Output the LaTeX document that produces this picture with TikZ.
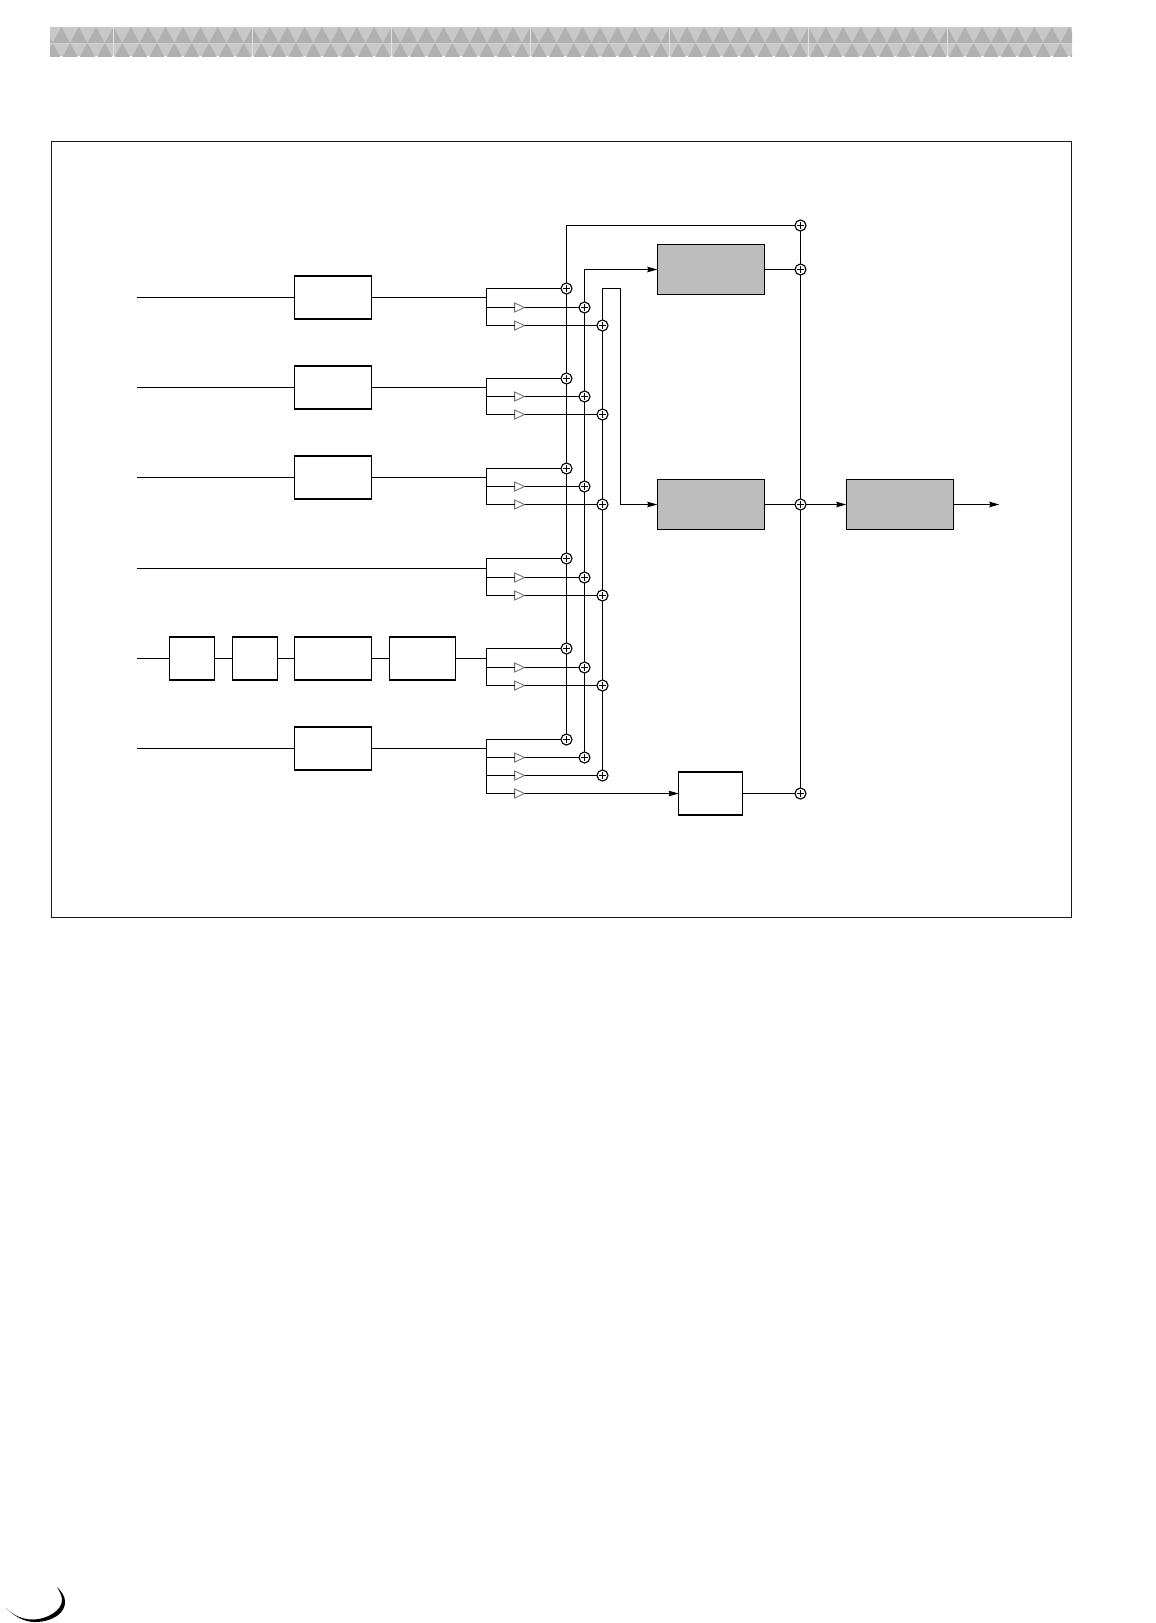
\documentclass[tikz,border=0pt]{standalone}
\usetikzlibrary{arrows.meta,shapes.geometric}
\definecolor{boxgray}{HTML}{BDBDBD}
\definecolor{bandlight}{HTML}{C8C8C8}
\definecolor{banddark}{HTML}{B0B0B0}
\tikzset{
    line/.style={line width=1.1pt},
    tipline/.style={line, -{Stealth[length=10pt,width=5.5pt,inset=1pt]}},
    plainbox/.style={draw, line width=1.3pt, fill=white, minimum height=43pt, inner sep=0pt, outer sep=0pt},
    graybox/.style={draw, line width=1.1pt, fill=boxgray, minimum height=50pt, inner sep=0pt, outer sep=0pt},
    sumnode/.style={circle, draw, line width=1.1pt, fill=white, minimum size=11pt, inner sep=0pt, outer sep=0pt,
        path picture={
            \draw[line width=0.9pt] (path picture bounding box.center) ++(-3.6pt,0) -- ++(7.2pt,0);
            \draw[line width=0.9pt] (path picture bounding box.center) ++(0,-3.6pt) -- ++(0,7.2pt);
        }},
    ampnode/.style={isosceles triangle, isosceles triangle stretches, draw=black!55, line width=0.9pt,
        fill=white, minimum width=9pt, minimum height=10pt, inner sep=0pt, outer sep=0pt},
}
\begin{document}
\begin{tikzpicture}[x=1pt, y=-1pt]
    \useasboundingbox (0,0) rectangle (1156,1623);

    % Colonne verticali
    \def\colA{566.5}
    \def\colB{584.5}
    \def\colC{602.5}
    \def\colOut{800.5}
    \def\ampx{517.5}

    % Fascia superiore
    \begin{scope}
        \clip (50,27) rectangle (1072,56);
        \fill[bandlight] (50,27) rectangle (1072,56);
        \foreach \k in {-4,...,56} {
            \fill[banddark] ({113.5+17.375*\k},27) -- ++(8.7,16) -- ++(-17.4,0) -- cycle;
            \fill[banddark] ({122.2+17.375*\k},43) -- ++(8.7,16) -- ++(-17.4,0) -- cycle;
        }
        \draw[line width=0.8pt, black!18] (50,43) -- (1072,43);
        \foreach \k in {0,...,6} {
            \draw[line width=1pt, black!12] ({113.5+139*\k},27) -- ++(0,29);
        }
    \end{scope}

    % Cornice
    \draw[line width=1.1pt, black!90] (51.5,141.5) rectangle (1071.5,917.5);

    % Ingressi e rami
    \foreach \r/\y/\ya/\yb/\yc in {1/297.5/288.5/307.5/325.5, 2/387.5/378.5/396.5/414.5,
        3/477.5/468.5/486.5/504.5, 4/568.5/558.5/577.5/595.5,
        5/658.5/648.5/667.5/685.5, 6/748.5/739.5/757.5/775.5} {
        \coordinate (in\r) at (137,\y);
        \coordinate (bus\r) at (486.5,\y);
        \node[sumnode] (sa\r) at (\colA,\ya) {};
        \node[sumnode] (sb\r) at (\colB,\yb) {};
        \node[sumnode] (sc\r) at (\colC,\yc) {};
        \node[ampnode] (ab\r) at (\ampx,\yb) {};
        \node[ampnode] (ac\r) at (\ampx,\yc) {};
        \draw[line] (bus\r) |- (sa\r);
        \draw[line] (bus\r) |- (ab\r);
        \draw[line] (bus\r) |- (ac\r);
        \draw[line] (ab\r) -- (sb\r);
        \draw[line] (ac\r) -- (sc\r);
    }

    % Blocchi degli ingressi
    \foreach \r/\y in {1/297.5, 2/387.5, 3/477.5, 6/748.5} {
        \node[plainbox, minimum width=77pt] (fx\r) at (332.8,\y) {};
        \draw[line] (in\r) -- (fx\r) -- (bus\r);
    }
    \draw[line] (in4) -- (bus4);

    % Catena della quinta riga
    \node[plainbox, minimum width=45.4pt] (ch1) at (192,658.5) {};
    \node[plainbox, minimum width=45.4pt] (ch2) at (255,658.5) {};
    \node[plainbox, minimum width=77pt] (ch3) at (332.8,658.5) {};
    \node[plainbox, minimum width=66.4pt] (ch4) at (422.5,658.5) {};
    \draw[line] (in5) -- (ch1) -- (ch2) -- (ch3) -- (ch4) -- (bus5);

    % Blocchi di destra
    \node[graybox, minimum width=107.4pt] (up) at (711,269.5) {};
    \node[graybox, minimum width=107.4pt] (mid) at (711,504.5) {};
    \node[graybox, minimum width=107pt] (last) at (899.8,504.5) {};
    \node[plainbox, minimum width=64pt] (low) at (710.7,793.5) {};
    \node[ampnode] (ad6) at (\ampx,793.5) {};

    % Somme di uscita
    \node[sumnode] (so1) at (\colOut,225.5) {};
    \node[sumnode] (so2) at (\colOut,269.5) {};
    \node[sumnode] (so3) at (\colOut,504.5) {};
    \node[sumnode] (so4) at (\colOut,793.5) {};
    \coordinate (out) at (999.3,504.5);
    \coordinate (turn) at (620.5,288.5);

    % Ultimo ramo
    \draw[line] (bus6) |- (ad6);
    \draw[tipline] (ad6) -- (low);
    \draw[line] (low) -- (so4);

    % Colonne
    \draw[line] (so1) -| (sa1);
    \draw[line] (sa1) -- (sa2) -- (sa3) -- (sa4) -- (sa5) -- (sa6);
    \draw[tipline] (sb1) |- (up);
    \draw[line] (sb1) -- (sb2) -- (sb3) -- (sb4) -- (sb5) -- (sb6);
    \draw[line] (sc1) |- (turn);
    \draw[tipline] (turn) |- (mid);
    \draw[line] (sc1) -- (sc2) -- (sc3) -- (sc4) -- (sc5) -- (sc6);

    % Uscita
    \draw[line] (up) -- (so2);
    \draw[line] (mid) -- (so3);
    \draw[line] (so1) -- (so2) -- (so3) -- (so4);
    \draw[tipline] (so3) -- (last);
    \draw[tipline] (last) -- (out);

    % Angolo in basso
    \fill[black] (6,1608) .. controls (16,1618) and (26,1622) .. (35,1622)
        .. controls (52,1622) and (66,1613) .. (65,1601)
        .. controls (65,1596) and (61,1591) .. (57,1587)
        .. controls (60,1592) and (62,1596) .. (62,1600)
        .. controls (62,1611) and (46,1619.5) .. (33,1619.5)
        .. controls (23,1619.5) and (14,1616) .. (6,1608) -- cycle;
\end{tikzpicture}
\end{document}
